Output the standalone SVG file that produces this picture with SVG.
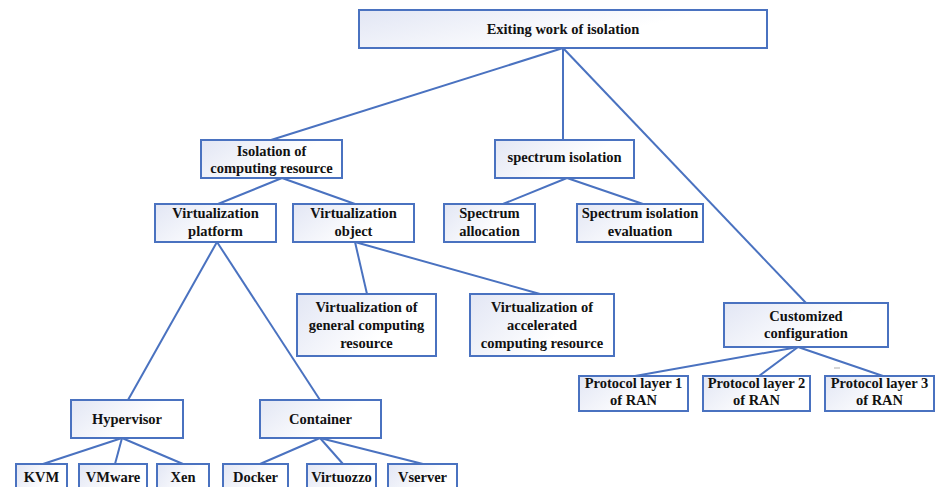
<svg xmlns="http://www.w3.org/2000/svg" width="935" height="487" viewBox="0 0 935 487">
  <defs>
    <linearGradient id="boxFill" x1="0" y1="0" x2="1" y2="0.4">
      <stop offset="0" stop-color="#e2e6f4"/>
      <stop offset="0.75" stop-color="#ffffff"/>
      <stop offset="1" stop-color="#ffffff"/>
    </linearGradient>
  </defs>
  <style>
    .box { fill: url(#boxFill); stroke: #4a72c0; stroke-width: 2; }
    .lbl { font-family: "Liberation Serif", "Times New Roman", serif; font-weight: bold; font-size: 14.5px; fill: #111111; text-anchor: middle; }
    .edge { stroke: #4a72c0; stroke-width: 2; fill: none; }
  </style>
  <rect width="935" height="487" fill="#ffffff"/>

  <!-- connectors -->
  <g id="connectors">
    <line class="edge" x1="563" y1="48" x2="271" y2="140"/>
    <line class="edge" x1="563" y1="48" x2="563" y2="140"/>
    <line class="edge" x1="563" y1="48" x2="806" y2="303"/>
    <line class="edge" x1="282" y1="178" x2="218" y2="204"/>
    <line class="edge" x1="282" y1="178" x2="355" y2="204"/>
    <line class="edge" x1="567" y1="178" x2="503" y2="204"/>
    <line class="edge" x1="567" y1="178" x2="643" y2="204"/>
    <line class="edge" x1="217" y1="242" x2="128" y2="400"/>
    <line class="edge" x1="217" y1="242" x2="320" y2="400"/>
    <line class="edge" x1="355" y1="242" x2="367" y2="294"/>
    <line class="edge" x1="355" y1="242" x2="540" y2="294"/>
    <line class="edge" x1="798" y1="347" x2="635" y2="376"/>
    <line class="edge" x1="798" y1="347" x2="759" y2="376"/>
    <line class="edge" x1="798" y1="347" x2="883" y2="376"/>
    <line class="edge" x1="122" y1="438" x2="43" y2="464"/>
    <line class="edge" x1="122" y1="438" x2="115" y2="464"/>
    <line class="edge" x1="122" y1="438" x2="183" y2="464"/>
    <line class="edge" x1="320" y1="438" x2="260" y2="464"/>
    <line class="edge" x1="320" y1="438" x2="343" y2="464"/>
    <line class="edge" x1="320" y1="438" x2="423" y2="464"/>
  </g>

  <!-- stray mark beside the third protocol layer link -->
  <line x1="834" y1="368" x2="840" y2="368" stroke="#c8c8c8" stroke-width="1.5"/>

  <g id="root">
    <rect class="box" x="359" y="10" width="408" height="38"/>
    <text class="lbl" x="563" y="34">Exiting work of isolation</text>
  </g>

  <g id="computing">
    <rect class="box" x="201" y="140" width="141" height="38"/>
    <text class="lbl" x="271.5" y="156">Isolation of</text>
    <text class="lbl" x="271.5" y="173">computing resource</text>
  </g>

  <g id="spectrum">
    <rect class="box" x="495" y="140" width="139" height="38"/>
    <text class="lbl" x="564.5" y="162">spectrum isolation</text>
  </g>

  <g id="virt-platform">
    <rect class="box" x="155" y="204" width="121" height="38"/>
    <text class="lbl" x="215.5" y="218">Virtualization</text>
    <text class="lbl" x="215.5" y="236">platform</text>
  </g>

  <g id="virt-object">
    <rect class="box" x="293" y="204" width="121" height="38"/>
    <text class="lbl" x="353.5" y="218">Virtualization</text>
    <text class="lbl" x="353.5" y="236">object</text>
  </g>

  <g id="spectrum-allocation">
    <rect class="box" x="444" y="204" width="91" height="38"/>
    <text class="lbl" x="489.5" y="218">Spectrum</text>
    <text class="lbl" x="489.5" y="236">allocation</text>
  </g>

  <g id="spectrum-evaluation">
    <rect class="box" x="577" y="204" width="126" height="38"/>
    <text class="lbl" x="640" y="218">Spectrum isolation</text>
    <text class="lbl" x="640" y="236">evaluation</text>
  </g>

  <g id="virt-general">
    <rect class="box" x="297" y="294" width="139" height="62"/>
    <text class="lbl" x="366.5" y="312">Virtualization of</text>
    <text class="lbl" x="366.5" y="330">general computing</text>
    <text class="lbl" x="366.5" y="348">resource</text>
  </g>

  <g id="virt-accelerated">
    <rect class="box" x="470" y="294" width="144" height="62"/>
    <text class="lbl" x="542" y="312">Virtualization of</text>
    <text class="lbl" x="542" y="330">accelerated</text>
    <text class="lbl" x="542" y="348">computing resource</text>
  </g>

  <g id="customized">
    <rect class="box" x="724" y="303" width="164" height="44"/>
    <text class="lbl" x="806" y="321">Customized</text>
    <text class="lbl" x="806" y="338">configuration</text>
  </g>

  <g id="protocol-1">
    <rect class="box" x="579" y="376" width="109" height="35"/>
    <text class="lbl" x="633.5" y="388">Protocol layer 1</text>
    <text class="lbl" x="633.5" y="405">of RAN</text>
  </g>

  <g id="protocol-2">
    <rect class="box" x="703" y="376" width="107" height="35"/>
    <text class="lbl" x="756.5" y="388">Protocol layer 2</text>
    <text class="lbl" x="756.5" y="405">of RAN</text>
  </g>

  <g id="protocol-3">
    <rect class="box" x="825" y="376" width="109" height="35"/>
    <text class="lbl" x="879.5" y="388">Protocol layer 3</text>
    <text class="lbl" x="879.5" y="405">of RAN</text>
  </g>

  <g id="hypervisor">
    <rect class="box" x="71" y="400" width="112" height="38"/>
    <text class="lbl" x="127" y="424">Hypervisor</text>
  </g>

  <g id="container">
    <rect class="box" x="260" y="400" width="121" height="38"/>
    <text class="lbl" x="320.5" y="424">Container</text>
  </g>

  <g id="kvm">
    <rect class="box" x="16" y="464" width="51" height="32"/>
    <text class="lbl" x="41.5" y="482">KVM</text>
  </g>

  <g id="vmware">
    <rect class="box" x="79" y="464" width="68" height="32"/>
    <text class="lbl" x="113" y="482">VMware</text>
  </g>

  <g id="xen">
    <rect class="box" x="157" y="464" width="52" height="32"/>
    <text class="lbl" x="183" y="482">Xen</text>
  </g>

  <g id="docker">
    <rect class="box" x="223" y="464" width="65" height="32"/>
    <text class="lbl" x="255.5" y="482">Docker</text>
  </g>

  <g id="virtuozzo">
    <rect class="box" x="307" y="464" width="69" height="32"/>
    <text class="lbl" x="341.5" y="482">Virtuozzo</text>
  </g>

  <g id="vserver">
    <rect class="box" x="388" y="464" width="69" height="32"/>
    <text class="lbl" x="422.5" y="482">Vserver</text>
  </g>
</svg>
